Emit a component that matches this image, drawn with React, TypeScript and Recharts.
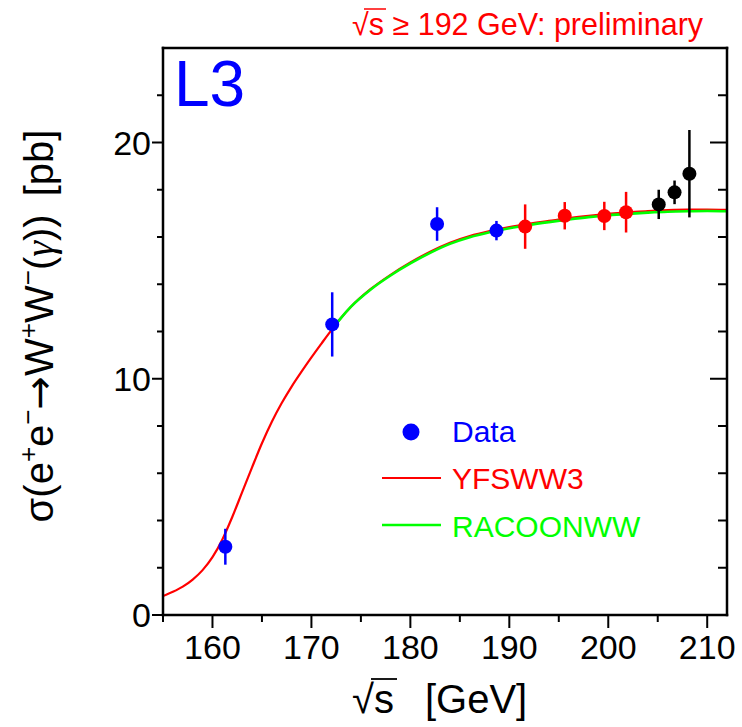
import React from 'react';
import { ComposedChart, Line, Scatter, ErrorBar, XAxis, YAxis } from 'recharts';

// YFSWW3 prediction
const yfsEnergy = [155, 156, 157, 158, 159, 160, 161, 162, 163, 164, 165, 166, 167, 168, 169, 170, 171, 172, 173, 174, 176, 178, 180, 182, 184, 186, 188, 190, 192, 194, 196, 198, 200, 202, 204, 206, 208, 210, 212];
const yfsSigma = [0.8, 0.98, 1.2, 1.5, 1.9, 2.45, 3.2, 4.15, 5.2, 6.25, 7.27, 8.18, 8.97, 9.67, 10.3, 10.9, 11.48, 12.05, 12.58, 13.05, 13.8, 14.4, 14.92, 15.38, 15.76, 16.04, 16.25, 16.42, 16.56, 16.68, 16.8, 16.9, 16.98, 17.04, 17.1, 17.14, 17.16, 17.16, 17.15];

// RACOONWW prediction (starts at 172 GeV)
const racEnergy = [172, 173, 174, 176, 178, 180, 182, 184, 186, 188, 190, 192, 194, 196, 198, 200, 202, 204, 206, 208, 210, 212];
const racSigma = [12.05, 12.58, 13.05, 13.78, 14.37, 14.88, 15.33, 15.71, 15.99, 16.2, 16.37, 16.51, 16.63, 16.74, 16.84, 16.92, 16.98, 17.03, 17.07, 17.09, 17.1, 17.09];

// L3 data: published (blue), preliminary >= 192 GeV (red), new (black)
const blueEnergy = [161.3, 172.1, 182.7, 188.7];
const blueSigma = [2.89, 12.3, 16.55, 16.27];
const blueErr = [0.76, 1.36, 0.71, 0.41];

const redEnergy = [191.6, 195.6, 199.6, 201.8];
const redSigma = [16.44, 16.9, 16.89, 17.05];
const redErr = [0.94, 0.58, 0.6, 0.86];

const blackEnergy = [205.1, 206.7, 208.2];
const blackSigma = [17.38, 17.89, 18.68];
const blackErr = [0.62, 0.5, 1.85];

const xTicks = [155, 160, 165, 170, 175, 180, 185, 190, 195, 200, 205, 210];
const yTicks = [0, 2, 4, 6, 8, 10, 12, 14, 16, 18, 20, 22];

const FONT = '"Liberation Sans", Arial, Helvetica, sans-serif';

const toLine = (xs: number[], ys: number[]) => xs.map((x, i) => ({ x, y: ys[i] }));
const toPoints = (xs: number[], ys: number[], es: number[]) =>
  xs.map((x, i) => ({ x, y: ys[i], err: es[i] }));

const yfsData = toLine(yfsEnergy, yfsSigma);
const racData = toLine(racEnergy, racSigma);
const blueData = toPoints(blueEnergy, blueSigma, blueErr);
const redData = toPoints(redEnergy, redSigma, redErr);
const blackData = toPoints(blackEnergy, blackSigma, blackErr);

const BottomTick = (props: any) => {
  const { x, y, payload } = props;
  const major = payload.value % 10 === 0;
  return (
    <g>
      <line x1={x} x2={x} y1={y} y2={y + (major ? 13 : 7)} stroke="#000" strokeWidth={2} />
      {major && (
        <text x={x} y={y + 44} textAnchor="middle" fontSize={34} fontFamily={FONT} fill="#000">
          {payload.value}
        </text>
      )}
    </g>
  );
};

const TopTick = (props: any) => {
  const { x, y, payload } = props;
  const major = payload.value % 10 === 0;
  return <line x1={x} x2={x} y1={y} y2={y + (major ? 13 : 7)} stroke="#000" strokeWidth={2} />;
};

const LeftTick = (props: any) => {
  const { x, y, payload } = props;
  const major = payload.value % 10 === 0;
  return (
    <g>
      <line x1={x} x2={x - (major ? 11 : 6)} y1={y} y2={y} stroke="#000" strokeWidth={2} />
      {major && (
        <text x={x - 12} y={y + 12} textAnchor="end" fontSize={34} fontFamily={FONT} fill="#000">
          {payload.value}
        </text>
      )}
    </g>
  );
};

const RightTick = (props: any) => {
  const { x, y, payload } = props;
  const major = payload.value % 10 === 0;
  return <line x1={x} x2={x - (major ? 17 : 9)} y1={y} y2={y} stroke="#000" strokeWidth={2} />;
};

const dot = (color: string, r: number) => (props: any) =>
  <circle cx={props.cx} cy={props.cy} r={r} fill={color} />;

const axisLine = { stroke: '#000', strokeWidth: 2.5, strokeLinecap: 'square' as const };

export default function App() {
  return (
    <div style={{ position: 'absolute', left: 0, top: 0, background: '#fff' }}>
      <ComposedChart width={742} height={727} margin={{ top: 0, right: 0, bottom: 0, left: 0 }}>
        <XAxis
          dataKey="x"
          type="number"
          domain={[155, 212]}
          ticks={xTicks}
          interval={0}
          allowDataOverflow
          height={112}
          tickSize={0}
          tickMargin={0}
          tickLine={false}
          axisLine={axisLine}
          tick={BottomTick}
        />
        <XAxis
          xAxisId="top"
          orientation="top"
          type="number"
          domain={[155, 212]}
          ticks={xTicks}
          interval={0}
          allowDataOverflow
          height={48}
          tickSize={0}
          tickMargin={0}
          tickLine={false}
          axisLine={axisLine}
          tick={TopTick}
        />
        <YAxis
          type="number"
          domain={[0, 24]}
          ticks={yTicks}
          interval={0}
          allowDataOverflow
          width={163}
          tickSize={0}
          tickMargin={0}
          tickLine={false}
          axisLine={axisLine}
          tick={LeftTick}
        />
        <YAxis
          yAxisId="right"
          orientation="right"
          type="number"
          domain={[0, 24]}
          ticks={yTicks}
          interval={0}
          allowDataOverflow
          width={15}
          tickSize={0}
          tickMargin={0}
          tickLine={false}
          axisLine={axisLine}
          tick={RightTick}
        />

        <Line data={yfsData} dataKey="y" type="monotone" stroke="#ff0000" strokeWidth={2.2} dot={false} isAnimationActive={false} />
        <Line data={racData} dataKey="y" type="monotone" stroke="#00ff00" strokeWidth={2.6} dot={false} isAnimationActive={false} />

        <Scatter data={blueData} dataKey="y" shape={dot('#0000ff', 7)} isAnimationActive={false}>
          <ErrorBar dataKey="err" direction="y" width={0} stroke="#0000ff" strokeWidth={2.5} />
        </Scatter>
        <Scatter data={redData} dataKey="y" shape={dot('#ff0000', 7)} isAnimationActive={false}>
          <ErrorBar dataKey="err" direction="y" width={0} stroke="#ff0000" strokeWidth={2.5} />
        </Scatter>
        <Scatter data={blackData} dataKey="y" shape={dot('#000000', 7)} isAnimationActive={false}>
          <ErrorBar dataKey="err" direction="y" width={0} stroke="#000000" strokeWidth={2.5} />
        </Scatter>

        {/* labels */}
        <text x={174} y={106} fontSize={64} fontFamily={FONT} fill="#0000ff">L3</text>
        <text x={352} y={35} fontSize={30.5} fontFamily={FONT} fill="#ff0000">
          √s ≥ 192 GeV: preliminary
        </text>
        <line x1={364} x2={386} y1={9} y2={9} stroke="#ff0000" strokeWidth={1.5} />

        {/* legend */}
        <circle cx={411} cy={432} r={8.5} fill="#0000ff" />
        <text x={452} y={442} fontSize={30} fontFamily={FONT} fill="#0000ff">Data</text>
        <line x1={382} x2={441} y1={478} y2={478} stroke="#ff0000" strokeWidth={2.2} />
        <text x={452} y={489} fontSize={30} fontFamily={FONT} fill="#ff0000">YFSWW3</text>
        <line x1={382} x2={441} y1={525} y2={525} stroke="#00ff00" strokeWidth={2.6} />
        <text x={452} y={537} fontSize={30} fontFamily={FONT} fill="#00ff00">RACOONWW</text>

        {/* axis titles */}
        <text x={352} y={713} fontSize={40} fontFamily={FONT} fill="#000">
          √s<tspan dx={31}>[GeV]</tspan>
        </text>
        <line x1={371} x2={397} y1={679} y2={679} stroke="#000" strokeWidth={1.8} />
        <text
          x={53}
          y={326}
          transform="rotate(-90, 53, 326)"
          textAnchor="middle"
          fontSize={40}
          fontFamily={FONT}
          fill="#000"
        >
          σ(e<tspan fontSize={26} dy={-16}>+</tspan>
          <tspan dy={16}>e</tspan>
          <tspan fontSize={26} dy={-16}>−</tspan>
          <tspan dy={16} fontFamily="DejaVu Sans" fontSize={40}>→</tspan>
          <tspan>W</tspan>
          <tspan fontSize={26} dy={-16}>+</tspan>
          <tspan dy={16}>W</tspan>
          <tspan fontSize={26} dy={-16}>−</tspan>
          <tspan dy={16}>(</tspan>
          <tspan fontFamily="Liberation Serif" fontStyle="italic">γ</tspan>
          <tspan>))</tspan>
          <tspan dx={18}>[pb]</tspan>
        </text>
      </ComposedChart>
    </div>
  );
}
